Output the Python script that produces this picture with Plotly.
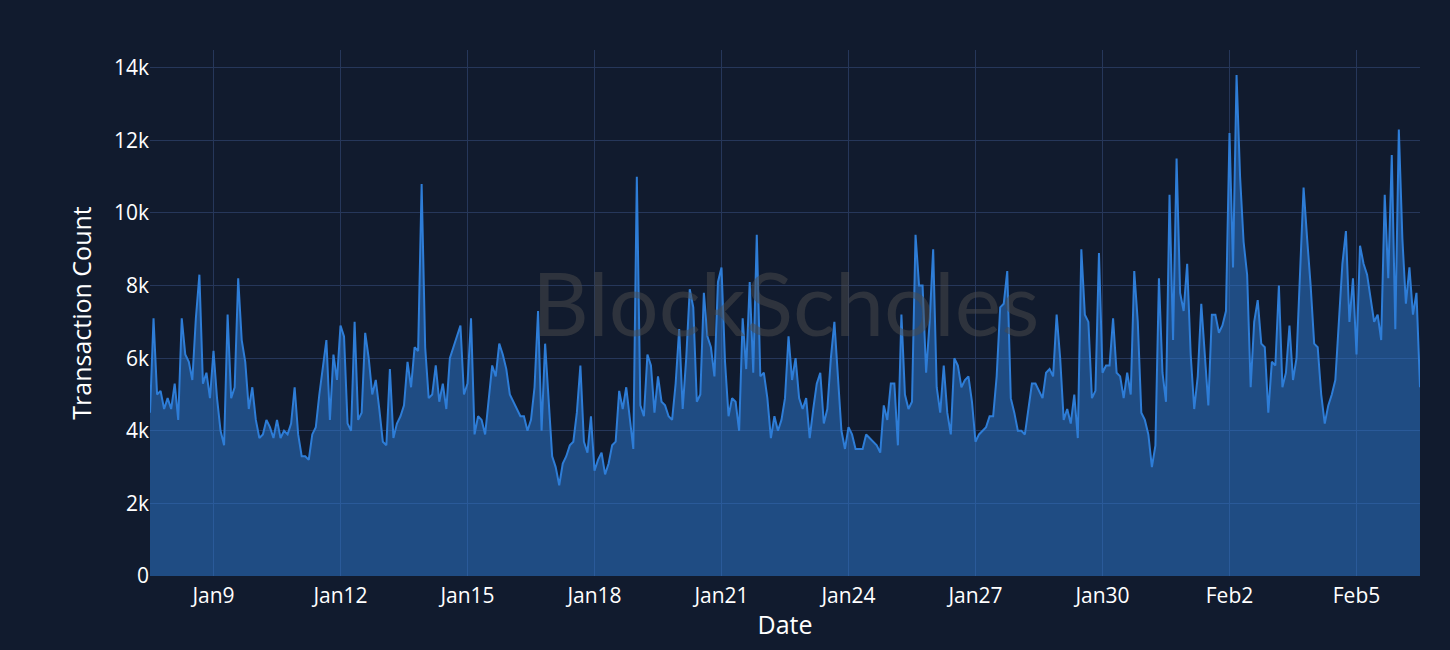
import pandas as pd
import plotly.graph_objects as go

# 2-hourly samples, Jan 7 12:00 -> Feb 6 12:00
start_time = "2024-01-07 12:00"
step_hours = 2
tx_count_k = [
    4.5, 7.1, 5.0, 5.1, 4.6, 4.9, 4.6, 5.3, 4.3, 7.1, 6.1, 5.9, 5.4, 7.1, 8.3, 5.3, 5.6, 4.9, 6.2, 4.9,
    4.0, 3.6, 7.2, 4.9, 5.2, 8.2, 6.5, 5.9, 4.6, 5.2, 4.3, 3.8, 3.9, 4.3, 4.1, 3.8, 4.3, 3.8, 4.0, 3.9,
    4.2, 5.2, 3.9, 3.3, 3.3, 3.2, 3.9, 4.1, 5.0, 5.8, 6.5, 4.3, 6.1, 5.4, 6.9, 6.6, 4.2, 4.0, 7.0, 4.3,
    4.5, 6.7, 6.0, 5.0, 5.4, 4.6, 3.7, 3.6, 5.7, 3.8, 4.2, 4.4, 4.7, 5.9, 5.2, 6.3, 6.2, 10.8, 6.3, 4.9,
    5.0, 5.8, 4.8, 5.3, 4.6, 6.0, 6.3, 6.6, 6.9, 5.0, 5.3, 7.1, 3.9, 4.4, 4.3, 3.9, 4.9, 5.8, 5.5, 6.4,
    6.1, 5.7, 5.0, 4.8, 4.6, 4.4, 4.4, 4.0, 4.3, 5.2, 7.3, 4.0, 6.4, 4.9, 3.3, 3.0, 2.5, 3.1, 3.3, 3.6,
    3.7, 4.5, 5.8, 3.7, 3.4, 4.4, 2.9, 3.2, 3.4, 2.8, 3.1, 3.6, 3.7, 5.1, 4.6, 5.2, 4.3, 3.5, 11.0, 4.7,
    4.4, 6.1, 5.8, 4.5, 5.5, 4.8, 4.7, 4.4, 4.3, 5.3, 6.8, 4.6, 6.0, 7.9, 7.4, 4.8, 5.0, 7.8, 6.6, 6.3,
    5.5, 8.1, 8.5, 5.9, 4.4, 4.9, 4.8, 4.0, 7.1, 5.7, 8.1, 5.6, 9.4, 5.5, 5.6, 4.9, 3.8, 4.4, 4.0, 4.3,
    4.9, 6.6, 5.4, 6.0, 4.9, 4.6, 4.9, 3.8, 4.6, 5.3, 5.6, 4.2, 4.6, 6.0, 7.0, 5.5, 4.0, 3.5, 4.1, 3.9,
    3.5, 3.5, 3.5, 3.9, 3.8, 3.7, 3.6, 3.4, 4.7, 4.3, 5.3, 5.3, 3.6, 7.2, 5.0, 4.6, 4.8, 9.4, 8.0, 8.0,
    5.6, 7.0, 9.0, 5.2, 4.5, 5.8, 4.5, 3.9, 6.0, 5.8, 5.2, 5.4, 5.5, 4.8, 3.7, 3.9, 4.0, 4.1, 4.4, 4.4,
    5.5, 7.4, 7.5, 8.4, 4.9, 4.5, 4.0, 4.0, 3.9, 4.6, 5.3, 5.3, 5.1, 4.9, 5.6, 5.7, 5.5, 7.2, 6.0, 4.3,
    4.6, 4.2, 5.0, 3.8, 9.0, 7.2, 7.0, 4.9, 5.1, 8.9, 5.6, 5.8, 5.8, 7.1, 5.6, 5.5, 4.9, 5.6, 5.0, 8.4,
    7.0, 4.5, 4.3, 3.9, 3.0, 3.6, 8.2, 5.6, 4.8, 10.5, 6.5, 11.5, 7.8, 7.3, 8.6, 6.1, 4.6, 5.5, 7.5, 6.0,
    4.7, 7.2, 7.2, 6.7, 6.9, 7.3, 12.2, 8.5, 13.8, 11.0, 9.2, 8.3, 5.2, 7.0, 7.6, 6.4, 6.3, 4.5, 5.9, 5.8,
    8.0, 5.2, 5.6, 6.9, 5.4, 6.0, 8.2, 10.7, 9.3, 8.0, 6.4, 6.3, 5.0, 4.2, 4.7, 5.0, 5.4, 6.9, 8.6, 9.5,
    7.0, 8.2, 6.1, 9.1, 8.6, 8.3, 7.6, 7.0, 7.2, 6.5, 10.5, 8.2, 11.6, 6.8, 12.3, 9.3, 7.5, 8.5, 7.2, 7.8,
    5.2,
]
tx_count = [round(v * 1000) for v in tx_count_k]
dates = pd.date_range(start=start_time, periods=len(tx_count), freq=f"{step_hours}h")

y_tickvals = [0, 2000, 4000, 6000, 8000, 10000, 12000, 14000]
y_ticktext = ["0", "2k", "4k", "6k", "8k", "10k", "12k", "14k"]

BG = "#111b2e"
GRID = "#26375a"
LINE = "#2e7dd7"
FONT = "Open Sans, Liberation Sans, Arial, sans-serif"

fig = go.Figure()
fig.add_trace(go.Scatter(
    x=dates, y=tx_count, mode="lines",
    line=dict(color=LINE, width=2),
    fill="tozeroy", fillcolor="rgba(46,125,215,0.5)",
    showlegend=False,
))

fig.add_annotation(
    text="BlockScholes", xref="paper", yref="paper", x=0.5, y=0.52,
    showarrow=False, font=dict(family="Lato, sans-serif", size=88, color="rgba(75,75,75,0.5)"),
)

fig.update_layout(
    width=1450, height=650,
    paper_bgcolor=BG, plot_bgcolor=BG,
    margin=dict(l=150, r=30, t=50, b=74),
    font=dict(family=FONT, color="white", size=21),
    xaxis=dict(
        title=dict(text="Date", font=dict(size=25, color="white"), standoff=8),
        type="date",
        range=[dates[0], dates[-1]],
        tickformat="%b%-d", tick0="2024-01-09", dtick=3 * 24 * 3600 * 1000,
        ticklabelstandoff=5,
        showgrid=True, gridcolor=GRID, gridwidth=1,
        zeroline=False, showline=False,
        tickfont=dict(size=21, color="white"),
    ),
    yaxis=dict(
        title=dict(text="Transaction Count", font=dict(size=25, color="white")),
        range=[0, 14490],
        tickvals=y_tickvals, ticktext=y_ticktext,
        showgrid=True, gridcolor=GRID, gridwidth=1,
        zeroline=False, showline=False,
        tickfont=dict(size=21, color="white"),
    ),
)

fig.write_html(
    "out.html",
    config={"displayModeBar": False},
    post_script="document.body.style.margin='0';document.body.style.background='%s';" % BG,
)
